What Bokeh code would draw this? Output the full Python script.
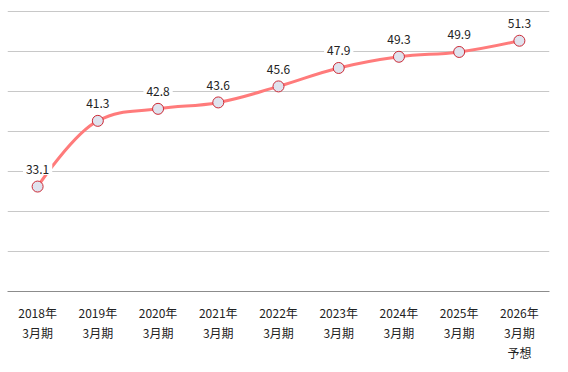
from bokeh.plotting import figure
from bokeh.models import Range1d, FixedTicker, ColumnDataSource
from bokeh.embed import file_html
from bokeh.resources import INLINE
from bokeh.core.properties import value

years = ["2018年\n3月期", "2019年\n3月期", "2020年\n3月期", "2021年\n3月期", "2022年\n3月期",
         "2023年\n3月期", "2024年\n3月期", "2025年\n3月期", "2026年\n3月期\n予想"]
values = [33.1, 41.3, 42.8, 43.6, 45.6, 47.9, 49.3, 49.9, 51.3]
grid_ticks = [25, 30, 35, 40, 45, 50, 55]

FONT = "Noto Sans CJK JP"
n = len(values)
xs = [i + 0.5 for i in range(n)]

# Spline control points (Highcharts-style smoothing, factor 1.5)
sm = 1.5
left = [None] * n
right = [None] * n
for i in range(1, n - 1):
    lx, ly = xs[i - 1], values[i - 1]
    px, py = xs[i], values[i]
    nx, ny = xs[i + 1], values[i + 1]
    lcx = (sm * px + lx) / (sm + 1); lcy = (sm * py + ly) / (sm + 1)
    rcx = (sm * px + nx) / (sm + 1); rcy = (sm * py + ny) / (sm + 1)
    corr = ((rcy - lcy) * (rcx - px)) / (rcx - lcx) + py - rcy
    lcy += corr; rcy += corr
    if lcy > ly and lcy > py:
        lcy = max(ly, py); rcy = 2 * py - lcy
    elif lcy < ly and lcy < py:
        lcy = min(ly, py); rcy = 2 * py - lcy
    if rcy > ny and rcy > py:
        rcy = max(ny, py); lcy = 2 * py - rcy
    elif rcy < ny and rcy < py:
        rcy = min(ny, py); lcy = 2 * py - rcy
    left[i] = (lcx, lcy)
    right[i] = (rcx, rcy)

bz = dict(x0=[], y0=[], x1=[], y1=[], cx0=[], cy0=[], cx1=[], cy1=[])
for i in range(n - 1):
    c0 = right[i] if right[i] else (xs[i], values[i])
    c1 = left[i + 1] if left[i + 1] else (xs[i + 1], values[i + 1])
    bz["x0"].append(xs[i]); bz["y0"].append(values[i])
    bz["x1"].append(xs[i + 1]); bz["y1"].append(values[i + 1])
    bz["cx0"].append(c0[0]); bz["cy0"].append(c0[1])
    bz["cx1"].append(c1[0]); bz["cy1"].append(c1[1])

p = figure(width=559, height=364, output_backend="svg", toolbar_location=None,
           x_range=Range1d(0, n), y_range=Range1d(20, 55.2),
           min_border_left=7, min_border_right=10, min_border_top=9, min_border_bottom=72)
p.outline_line_color = None
p.background_fill_color = "white"
p.border_fill_color = "white"

p.yaxis.visible = False
p.ygrid.ticker = FixedTicker(ticks=grid_ticks)
p.ygrid.grid_line_color = "#c8c8c8"
p.ygrid.grid_line_width = 1
p.xgrid.visible = False

p.xaxis.ticker = FixedTicker(ticks=xs)
p.xaxis.major_label_overrides = {x: lab for x, lab in zip(xs, years)}
p.xaxis.major_tick_line_color = None
p.xaxis.minor_tick_line_color = None
p.xaxis.axis_line_color = "#8c8c8c"
p.xaxis.axis_line_width = 1
p.xaxis.major_label_text_font = FONT
p.xaxis.major_label_text_font_size = "12px"
p.xaxis.major_label_text_color = "#222222"
p.xaxis.major_label_text_line_height = 1.2
p.xaxis.major_label_standoff = 6

src = ColumnDataSource(dict(x=xs, y=values, lab=[f"{v:.1f}" for v in values]))

p.bezier(source=ColumnDataSource(bz), x0="x0", y0="y0", x1="x1", y1="y1",
         cx0="cx0", cy0="cy0", cx1="cx1", cy1="cy1",
         line_color="#ff7b7b", line_width=3)

p.scatter("x", "y", source=src, size=11, fill_color="#dfe3ee",
          line_color="#cc2a36", line_width=1)

p.text("x", "y", text="lab", source=src, text_align="center", text_baseline="alphabetic",
       y_offset=-17, text_font=value(FONT), text_font_size="12px", text_color="#222222",
       background_fill_color="white", padding=(3, 1))

open("out.html", "w").write(file_html(p, INLINE))
